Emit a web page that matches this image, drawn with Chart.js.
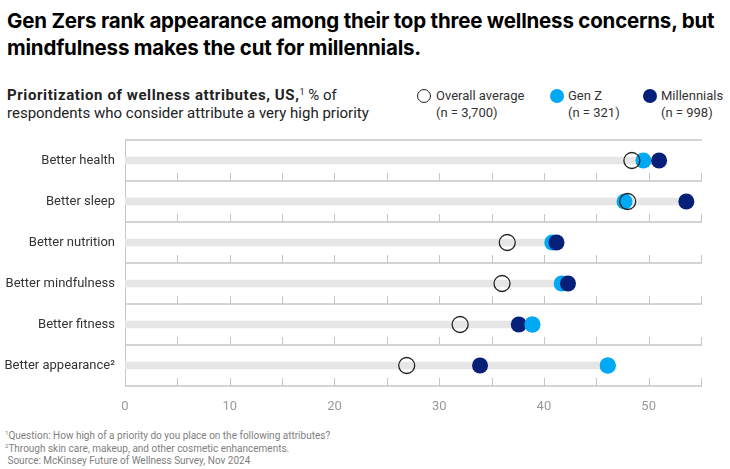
<!doctype html>
<html lang="en">
<head>
<meta charset="UTF-8">
<title>Wellness attributes</title>
<script src="https://cdn.jsdelivr.net/npm/chart.js@4"></script>
<style>
  body { margin: 0; width: 730px; height: 469px; background: #fff; font-family: Roboto, Arial, sans-serif; position: relative; overflow: hidden; }
  .title { position: absolute; left: 7px; top: 7px; width: 725px; font-family: Inter, Arial, sans-serif; font-weight: 700; font-size: 20.5px; line-height: 27px; color: #000; letter-spacing: -0.2px; }
  .sub { position: absolute; left: 7px; top: 86px; font-size: 15px; line-height: 18px; color: #222; }
  .sub b { font-weight: 700; letter-spacing: 0.6px; }
  sup { font-size: 60%; line-height: 0; vertical-align: 0.6em; }
  .legend { position: absolute; top: 87px; font-size: 13px; line-height: 17px; color: #333; }
  .dot { position: absolute; left: -19px; top: 2px; width: 14px; height: 14px; border-radius: 50%; box-sizing: border-box; }
  .notes { position: absolute; left: 5px; top: 430px; font-size: 10px; line-height: 12.5px; color: #808080; }
  #wrap { position: absolute; left: 0; top: 130px; width: 730px; height: 290px; }
</style>
</head>
<body>
<div class="title">Gen Zers rank appearance among their top three wellness concerns, but mindfulness makes the cut for millennials.</div>
<div class="sub"><b>Prioritization of wellness attributes, US,</b><sup>1</sup> % of<br>respondents who consider attribute a very high priority</div>

<div class="legend" style="left:436px"><span class="dot" style="border:1.4px solid #222"></span>Overall average<br>(n = 3,700)</div>
<div class="legend" style="left:568px"><span class="dot" style="background:#00a9f4;left:-18px"></span>Gen Z<br>(n = 321)</div>
<div class="legend" style="left:661px"><span class="dot" style="background:#061f79;left:-18px"></span>Millennials<br>(n = 998)</div>

<div id="wrap"><canvas id="chart"></canvas></div>

<div class="notes"><sup>1</sup>Question: How high of a priority do you place on the following attributes?<br><sup>2</sup>Through skin care, makeup, and other cosmetic enhancements.<br>&nbsp;Source: McKinsey Future of Wellness Survey, Nov 2024</div>

<script>
// ——— dados ———
const attributes = ["Better health", "Better sleep", "Better nutrition", "Better mindfulness", "Better fitness", "Better appearance\u00B2"];
const overall = [48.4, 48.0, 36.5, 36.0, 32.0, 26.9];
const genZ = [49.5, 47.7, 40.8, 41.7, 38.9, 46.1];
const millennials = [51.0, 53.6, 41.2, 42.3, 37.6, 33.9];
const xTicks = [0, 10, 20, 30, 40, 50];

const GENZ = "#00a9f4";
const MILL = "#061f79";
const LINE = "#c6c6c6";

// trilho cinza: de 0 até o maior valor da linha
const track = attributes.map((_, i) => [0, Math.max(overall[i], genZ[i], millennials[i])]);
// Gen Z por cima quando fica à direita dos millennials
const genZTop = genZ.map((v, i) => (v > millennials[i] ? v : null));

// linhas das faixas, eixo da esquerda e marquinhas a cada 5 pontos
const bandLines = {
  id: "bandLines",
  beforeDatasetsDraw(chart) {
    const { ctx, chartArea: a, scales: { x, y } } = chart;
    const half = (y.getPixelForValue(1) - y.getPixelForValue(0)) / 2;
    const px = (v) => Math.round(v) + 0.5;
    const x0 = px(x.getPixelForValue(0));
    ctx.save();
    ctx.strokeStyle = LINE;
    // verticais: eixo e marquinhas
    ctx.lineWidth = 1;
    ctx.beginPath();
    ctx.moveTo(x0, Math.round(y.getPixelForValue(0) - half));
    ctx.lineTo(x0, Math.round(y.getPixelForValue(attributes.length - 1) + half));
    attributes.forEach((_, i) => {
      const yb = Math.round(y.getPixelForValue(i) + half);
      x.ticks.forEach((t) => {
        if (t.value === 0) return;
        const xp = px(x.getPixelForValue(t.value));
        ctx.moveTo(xp, yb);
        ctx.lineTo(xp, yb - 8);
      });
    });
    ctx.stroke();
    // horizontais: separadores das faixas
    ctx.lineWidth = 1.4;
    ctx.beginPath();
    for (let i = -1; i < attributes.length; i++) {
      const yb = Math.round(y.getPixelForValue(i) + half);
      ctx.moveTo(x0 - 0.5, yb);
      ctx.lineTo(Math.round(a.right) + 1, yb);
    }
    ctx.stroke();
    ctx.restore();
  }
};

const dot = (label, data, color, order) => ({
  type: "line",
  label,
  data,
  indexAxis: "y",
  showLine: false,
  pointRadius: 8,
  pointHoverRadius: 8,
  pointBackgroundColor: color,
  pointBorderWidth: 0,
  borderColor: color,
  order
});

new Chart(document.getElementById("chart"), {
  type: "bar",
  data: {
    labels: attributes,
    datasets: [
      { label: "track", data: track, backgroundColor: "#e6e6e6", barThickness: 7, order: 10 },
      dot("Gen Z", genZ, GENZ, 5),
      dot("Millennials", millennials, MILL, 4),
      dot("Gen Z top", genZTop, GENZ, 3),
      {
        type: "line",
        label: "Overall average",
        data: overall,
        indexAxis: "y",
        showLine: false,
        pointRadius: 8,
        pointHoverRadius: 8,
        pointBackgroundColor: "rgba(0,0,0,0)",
        pointBorderColor: "#222",
        pointBorderWidth: 1.3,
        borderColor: "#222",
        order: 1
      }
    ]
  },
  options: {
    indexAxis: "y",
    responsive: true,
    maintainAspectRatio: false,
    animation: false,
    layout: { autoPadding: false, padding: { top: 10, right: 29, left: 0, bottom: 0 } },
    scales: {
      x: {
        min: 0,
        max: 55,
        grid: { display: false },
        border: { display: false },
        afterFit: (s) => { s.height = 34; s.paddingLeft = 0; s.paddingRight = 0; },
        afterBuildTicks: (s) => {
          const t = [];
          for (let v = 0; v <= 55; v += 5) t.push({ value: v });
          s.ticks = t;
        },
        ticks: {
          padding: 5,
          color: "#9a9a9a",
          font: { family: "Roboto", size: 13 },
          autoSkip: false,
          maxRotation: 0,
          callback: (v) => (xTicks.includes(v) ? v : "")
        }
      },
      y: {
        offset: true,
        grid: { display: false, drawTicks: false },
        border: { display: false },
        afterFit: (s) => { s.width = 125; s.paddingTop = 0; s.paddingBottom = 0; },
        ticks: {
          padding: 10,
          color: "#333",
          font: { family: "Roboto", size: 13 }
        }
      }
    },
    plugins: {
      legend: { display: false },
      tooltip: { enabled: false }
    }
  },
  plugins: [bandLines]
});
</script>
</body>
</html>
